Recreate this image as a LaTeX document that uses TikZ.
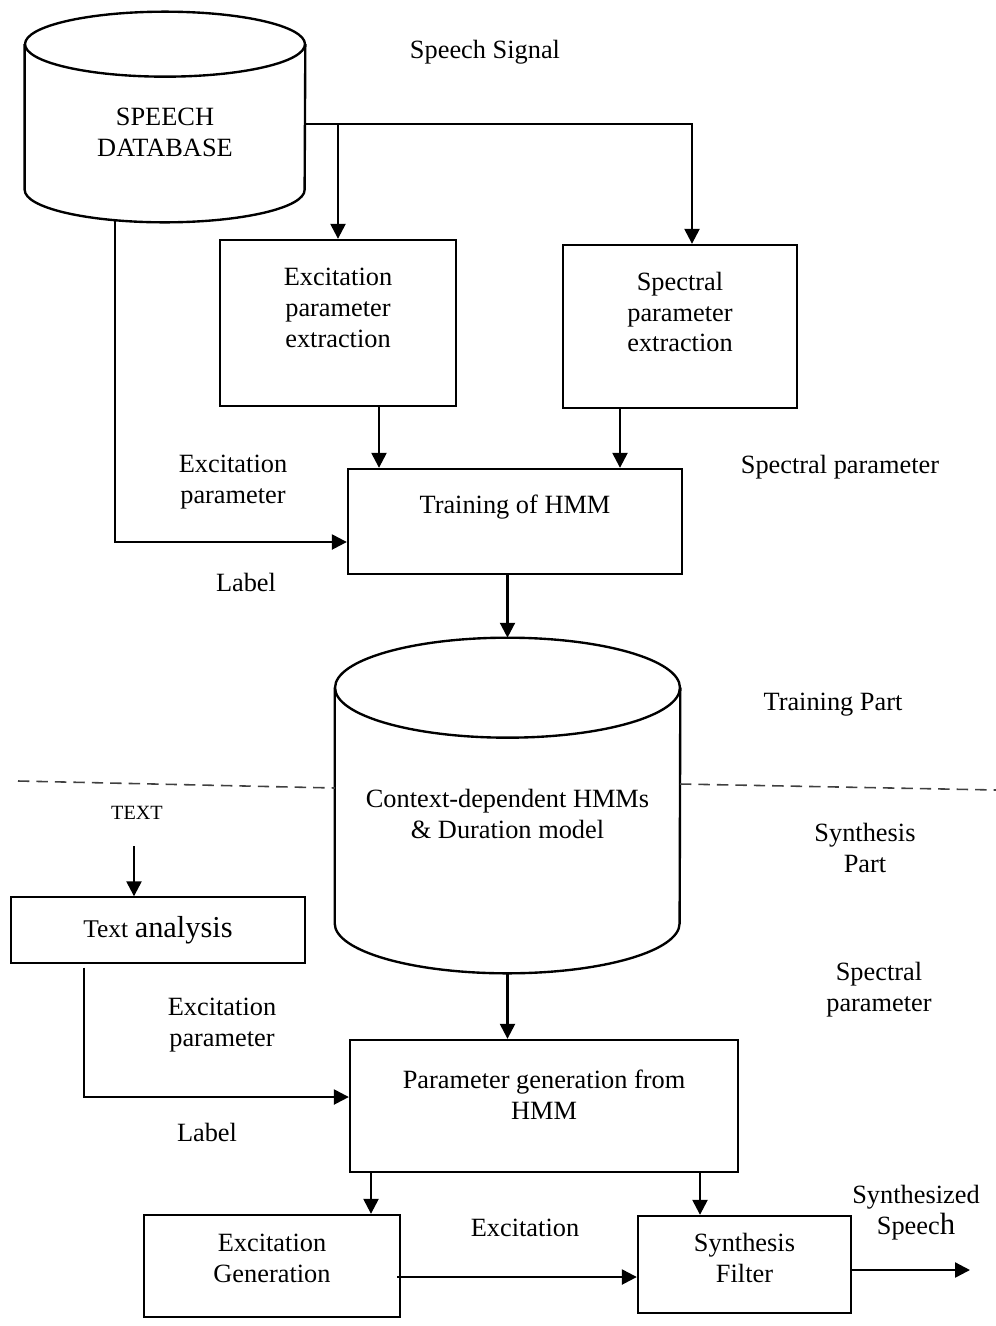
\documentclass[tikz,border=0pt]{standalone}
\usepackage{fontspec}
\setmainfont{Liberation Serif}
\usetikzlibrary{arrows.meta,calc}
\begin{document}
\begin{tikzpicture}[x=0.02cm,y=-0.02cm,
  every node/.style={font=\fontsize{15}{17.6}\selectfont, align=center},
  box/.style={draw, line width=1.35pt, inner sep=0pt},
  thinbox/.style={draw, line width=0.8pt, inner sep=0pt},
  zone/.style={inner sep=0pt},
  cyl/.style={line width=1.35pt},
  arr/.style={line width=1.35pt, -{Triangle[length=8.5pt,width=8.5pt]}},
  sep/.style={dash pattern=on 6.5pt off 4pt, line width=0.9pt, black!75}]

\useasboundingbox (0,0) rectangle (996,1326);

% ---------- training part ----------
\node[zone, minimum width=5.6cm, minimum height=4.2cm,
      label={[yshift=-0.31cm]center:SPEECH\\DATABASE}] (db) at (165,117) {};
\draw[cyl] ([yshift=-0.65cm]db.north west) -- ([yshift=0.65cm]db.south west)
  arc[start angle=180, end angle=360, x radius=2.8cm, y radius=0.65cm]
  -- ([yshift=-0.65cm]db.north east);
\draw[cyl] ([yshift=-0.65cm]db.north) ellipse[x radius=2.8cm, y radius=0.65cm];

\node[box, minimum width=4.72cm, minimum height=3.32cm,
      label={[yshift=0.3cm]center:Excitation\\parameter\\extraction}] (exbox) at (338,323) {};
\node[box, minimum width=4.68cm, minimum height=3.26cm,
      label={[yshift=0.29cm]center:Spectral\\parameter\\extraction}] (spbox) at (680,326.5) {};
\node[box, minimum width=6.68cm, minimum height=2.1cm,
      label={[yshift=0.29cm]center:Training of HMM}] (train) at (515,521.5) {};

\node[zone, minimum width=6.9cm, minimum height=6.7cm,
      label={[yshift=-0.17cm]center:Context-dependent HMMs\\\& Duration model}] (hmm) at (507.5,805.5) {};
\draw[cyl] ([yshift=-1cm]hmm.north west) -- ([yshift=1cm]hmm.south west)
  arc[start angle=180, end angle=360, x radius=3.45cm, y radius=1cm]
  -- ([yshift=-1cm]hmm.north east);
\draw[cyl] ([yshift=-1cm]hmm.north) ellipse[x radius=3.45cm, y radius=1cm];

% labels of the training part
\node (sig)   at (485,52)  {Speech Signal};
\node (exlbl) at (233,482) {Excitation\\parameter};
\node (lab1)  at (246,582) {Label};
\node (splbl) at (840,467) {Spectral parameter};
\node (tpart) at (833,705) {Training Part};

% connectors of the training part
\coordinate (sigline) at ([yshift=-0.14cm]db.east);
\draw[arr] (sigline) -| ([xshift=0.24cm]spbox.north);
\draw[arr] (sigline -| exbox.north) -- (exbox.north);
\draw[arr] ($(exbox.south)+(41,0)$) coordinate (e1) -- (e1 |- train.north);
\draw[arr] ($(spbox.south)+(-60,0)$) coordinate (s1) -- (s1 |- train.north);
\draw[arr] ($(db.south)+(-50,-2)$) coordinate (l1) |- ($(train.west)+(0,20.5)$);
\draw[arr] (train.south -| hmm.north) -- (hmm.north);

% ---------- border between the two parts ----------
\draw[sep] (18,781) -- (335,788);
\draw[sep] (680,784) -- (996,790);

% ---------- synthesis part ----------
\node[font=\fontsize{11.5}{13}\selectfont] (txt) at (137,813) {TEXT};
\node[thinbox, minimum width=5.88cm, minimum height=1.32cm] (ta) at (158,930)
  {{\fontsize{14.5}{17}\selectfont Text} {\fontsize{17.3}{20}\selectfont analysis}};
\node[box, minimum width=7.76cm, minimum height=2.64cm,
      label={[yshift=0.23cm]center:Parameter generation from\\HMM}] (param) at (544,1106) {};
\node[box, minimum width=5.12cm, minimum height=2.04cm,
      label={[yshift=0.16cm]center:Excitation\\Generation}] (exgen) at (272,1266) {};
\node[box, minimum width=4.26cm, minimum height=1.94cm,
      label={[yshift=0.13cm]center:Synthesis\\Filter}] (synth) at (744.5,1264.5) {};

% labels of the synthesis part
\node (spart)  at (865,848)  {Synthesis\\Part};
\node (splbl2) at (879,990)  {Spectral\\parameter};
\node (exlbl2) at (222,1025) {Excitation\\parameter};
\node (lab2)   at (207,1132) {Label};
\node (exc)    at (525,1228) {Excitation};
\node (outlbl) at (916,1213) {Synthesized\\Speec{\fontsize{17.5}{17.6}\selectfont h}};

% connectors of the synthesis part
\coordinate (tin) at (134,846);
\draw[arr] (tin) -- (tin |- ta.north);
\draw[arr] ($(ta.south)+(-74,4)$) coordinate (t1) |- ($(param.west)+(0,-9)$);
\draw[arr] (hmm.south) -- (hmm.south |- param.north);
\draw[arr] ($(param.south)+(-173,0)$) coordinate (p1) -- (p1 |- exgen.north);
\draw[arr] ($(param.south)+(156,0)$) coordinate (p2) -- (p2 |- synth.north);
\draw[arr] ($(exgen.east)+(-4,11)$) coordinate (g1) -- (g1 -| synth.west);
\coordinate (out) at (970,1270);
\draw[arr] (out -| synth.east) -- (out);
\end{tikzpicture}
\end{document}
